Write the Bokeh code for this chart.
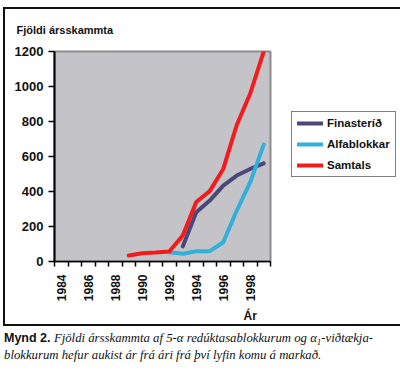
from bokeh.plotting import figure
from bokeh.models import (Range1d, FixedTicker, Title, Legend, LegendItem, Div,
                          ColumnDataSource)
from bokeh.layouts import column
from bokeh.embed import file_html
from bokeh.resources import INLINE
import math

# ---- data ----
fin_years = [1993, 1994, 1995, 1996, 1997, 1998, 1999]
fin_vals = [86, 282, 348, 434, 491, 529, 561]
alfa_years = [1992, 1993, 1994, 1995, 1996, 1997, 1998, 1999]
alfa_vals = [53, 44, 59, 59, 110, 291, 453, 668]
sam_years = [1989, 1990, 1991, 1992, 1993, 1994, 1995, 1996, 1997, 1998, 1999]
sam_vals = [34, 47, 51, 57, 148, 340, 402, 529, 780, 960, 1200]
tick_years = [1984, 1986, 1988, 1990, 1992, 1994, 1996, 1998]
y_ticks = [0, 200, 400, 600, 800, 1000, 1200]
names = ["Finasteríð", "Alfablokkar", "Samtals"]
colors = ["#4a4878", "#33b0da", "#f21c1c"]

all_years = list(range(1984, 2000))
bounds = [y - 0.5 for y in all_years] + [all_years[-1] + 0.5]

p = figure(frame_width=216, frame_height=210,
           min_border_left=49, min_border_right=121,
           min_border_top=42, min_border_bottom=61,
           x_range=Range1d(bounds[0], bounds[-1]), y_range=Range1d(0, 1200),
           output_backend="svg", toolbar_location=None,
           background_fill_color="#c4c4c8", border_fill_color="white",
           margin=(9, 0, 0, 5),
           styles={"outline": "2px solid #111111"})
p.grid.visible = False
p.outline_line_color = "#8c8c8c"
p.outline_line_width = 2

# title
p.title.text = "Fjöldi ársskammta"
p.title.align = "left"
p.title.vertical_align = "top"
p.title.offset = -38
p.title.standoff = 27
p.title.text_font = "Liberation Sans"
p.title.text_font_style = "bold"
p.title.text_font_size = "11px"
p.title.text_color = "#111111"

# y axis
p.yaxis.ticker = FixedTicker(ticks=y_ticks)
p.yaxis.axis_line_color = "black"
p.yaxis.axis_line_width = 2
p.yaxis.major_tick_out = 6
p.yaxis.major_tick_in = 0
p.yaxis.major_tick_line_width = 1.5
p.yaxis.minor_tick_line_color = None
p.yaxis.major_label_text_font = "Liberation Sans"
p.yaxis.major_label_text_font_style = "bold"
p.yaxis.major_label_text_font_size = "13px"
p.yaxis.major_label_text_color = "#111111"
p.yaxis.major_label_standoff = 5

# x axis
p.xaxis.ticker = FixedTicker(ticks=tick_years, minor_ticks=bounds)
p.xaxis.axis_line_color = "black"
p.xaxis.axis_line_width = 1.5
p.xaxis.major_tick_out = 0
p.xaxis.major_tick_in = 0
p.xaxis.minor_tick_out = 5
p.xaxis.minor_tick_in = 0
p.xaxis.minor_tick_line_color = "black"
p.xaxis.minor_tick_line_width = 1.5
p.xaxis.major_label_orientation = math.pi / 2
p.xaxis.major_label_text_font = "Liberation Sans"
p.xaxis.major_label_text_font_style = "bold"
p.xaxis.major_label_text_font_size = "12px"
p.xaxis.major_label_text_color = "#111111"
p.xaxis.major_label_standoff = 8

series = [(fin_years, fin_vals), (alfa_years, alfa_vals), (sam_years, sam_vals)]
items = []
for (xs, ys), name, c in zip(series, names, colors):
    src = ColumnDataSource(dict(x=xs, y=ys))
    r = p.line("x", "y", source=src, line_color=c, line_width=4,
               line_join="round", line_cap="round")
    items.append(LegendItem(label=name, renderers=[r]))

legend = Legend(items=items, location=(21, 84),
                border_line_color="black", border_line_width=1,
                background_fill_color="white", background_fill_alpha=1,
                label_text_font="Liberation Sans", label_text_font_style="bold",
                label_text_font_size="11.5px", label_text_color="#111111",
                glyph_width=26, glyph_height=12, label_height=12,
                label_standoff=4, spacing=9, padding=5, margin=0)
p.add_layout(legend, "right")

ar = Title(text="Ár", align="left", offset=189, standoff=4,
           text_font="Liberation Sans", text_font_style="bold",
           text_font_size="12px", text_color="#111111")
p.add_layout(ar, "below")

cap = Div(text=(
    '<div style="line-height:17px; color:#111; white-space:nowrap;">'
    '<span style="font-family:\'Liberation Sans\'; font-weight:bold; font-size:12.5px; line-height:17px;">Mynd 2.</span> '
    '<span style="font-family:\'Liberation Serif\'; font-style:italic; font-size:12.75px; line-height:17px;">'
    'Fjöldi ársskammta af 5-α redúktasablokkurum og α'
    '<span style="font-size:9px; line-height:9px; position:relative; top:3px;">1</span>-viðtækja-'
    '<br>blokkurum hefur aukist ár frá ári frá því lyfin komu á markað.</span></div>'),
    width=390, height=40, margin=(6, 0, 0, 4))

lay = column(p, cap, spacing=0)
open("out.html", "w").write(file_html(lay, INLINE))
